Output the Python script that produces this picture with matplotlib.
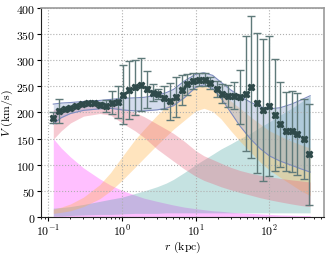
import matplotlib
matplotlib.use("Agg")
import matplotlib.pyplot as plt
import numpy as np

plt.rcParams['font.family'] = 'serif'
plt.rcParams['font.serif'] = ['cmr10', 'DejaVu Serif']
plt.rcParams['mathtext.fontset'] = 'cm'
plt.rcParams['axes.formatter.use_mathtext'] = True
plt.rcParams['font.size'] = 8.5

# observed rotation curve
r_obs = [0.117, 0.141, 0.168, 0.200, 0.241, 0.291, 0.347, 0.415, 0.500, 0.602,
         0.726, 0.875, 1.04, 1.255, 1.50, 1.81, 2.16, 2.60, 3.09, 3.73,
         4.45, 5.37, 6.47, 7.72, 9.20, 11.1, 13.2, 15.9, 19.2, 22.9,
         27.5, 33.0, 39.7, 47.8, 57.1, 68.8, 82.2, 98.0, 118, 141,
         170, 203, 241, 291, 347]
v_obs = [190, 203, 207, 209, 213, 216, 218, 218, 215, 212,
         219, 220, 234, 243, 248, 253, 244, 238, 235, 228,
         221, 229, 243, 254, 260, 263, 263, 256, 245, 236,
         232, 232, 230, 236, 248, 218, 205, 212, 196, 177,
         164, 164, 159, 149, 120]
v_err = [10, 23, 4, 4, 4, 3, 3, 3, 5, 12,
         22, 31, 57, 56, 52, 51, 35, 16, 9, 22,
         35, 38, 28, 20, 15, 12, 12, 12, 15, 18,
         21, 26, 52, 110, 136, 134, 136, 134, 107, 82,
         76, 78, 78, 76, 97]

# model bands
r_grid = [0.117, 0.15, 0.2, 0.3, 0.5, 0.7, 1.0, 1.5, 2.0, 3.0, 4.0, 5.0, 7.0,
          10, 13, 17, 22, 30, 40, 55, 75, 100, 140, 200, 270, 358]
total_lo = [178, 190, 198, 204, 207, 208, 205, 203, 203, 205, 208, 213, 228,
            248, 253, 246, 228, 200, 174, 150, 131, 117, 107, 99, 92, 86]
total_hi = [216, 218, 219, 221, 223, 225, 227, 228, 229, 233, 238, 244, 260,
            273, 276, 271, 258, 243, 231, 220, 211, 207, 209, 216, 224, 232]
bulge_lo = [149, 165, 180, 193, 198, 195, 180, 165, 152, 130, 117, 107, 92,
            78, 70, 64, 58, 52, 47, 42, 37, 33, 29, 25, 22, 20]
bulge_hi = [205, 210, 214, 217, 218, 215, 208, 200, 192, 178, 168, 160, 145,
            127, 117, 110, 103, 95, 89, 84, 80, 77, 74, 71, 69, 67]
disk_lo = [7, 9, 12, 20, 35, 50, 70, 95, 113, 138, 155, 168, 185,
           203, 208, 202, 188, 165, 145, 125, 105, 90, 76, 62, 50, 41]
disk_hi = [15, 19, 25, 38, 62, 85, 115, 148, 168, 195, 212, 225, 240,
           250, 250, 245, 236, 222, 208, 192, 178, 165, 155, 145, 138, 132]
halo_lo = [2, 2, 3, 4, 5, 5, 6, 7, 7, 7, 8, 8, 8,
           8, 8, 8, 8, 8, 8, 8, 8, 8, 8, 8, 8, 8]
halo_hi = [17, 18, 20, 24, 30, 34, 38, 45, 50, 58, 65, 72, 85,
           100, 110, 120, 130, 140, 150, 160, 172, 182, 195, 208, 220, 232]
bh_lo = [0] * len(r_grid)
bh_hi = [150, 132, 115, 94, 73, 61, 51, 42, 36, 30, 26, 23, 19,
         16, 14, 12, 11, 9, 8, 7, 6, 5, 4, 3.5, 3, 3]

fig = plt.figure(figsize=(3.29, 2.55), dpi=100)
ax = fig.add_axes([0.125, 0.145, 0.86, 0.82])

ax.fill_between(r_grid, bh_lo, bh_hi, color='#ff00ff', alpha=0.25, lw=0)
ax.fill_between(r_grid, halo_lo, halo_hi, color='#3f9f9c', alpha=0.3, lw=0)
ax.fill_between(r_grid, disk_lo, disk_hi, color='#ffb347', alpha=0.35, lw=0)
ax.fill_between(r_grid, bulge_lo, bulge_hi, color='#e8687f', alpha=0.35, lw=0)
ax.fill_between(r_grid, total_lo, total_hi, color='#8ea4cf', alpha=0.38, lw=0)
ax.plot(r_grid, total_lo, color='#7f8cc0', lw=0.8)
ax.plot(r_grid, total_hi, color='#7f8cc0', lw=0.8)

ax.errorbar(r_obs, v_obs, yerr=v_err, fmt='X', color='#2f4a4a', ms=4.5,
            ecolor='#5f7a7a', elinewidth=1, capsize=3, capthick=1, zorder=5)

ax.set_xscale('log')
ax.set_xlim(0.08, 553)
ax.set_ylim(0, 400)
ax.set_yticks(np.arange(0, 401, 50))
ax.grid(True, which='major', color='#b0b0b0', ls=':', lw=0.8)
ax.set_xlabel(r'$r$ (kpc)', labelpad=1)
ax.set_ylabel(r'$V$ (km/s)', labelpad=1)
ax.tick_params(direction='out', length=3, pad=1)
ax.tick_params(which='minor', length=1.5)

for side in ['top', 'right']:
    ax.spines[side].set_color('#999999')
    ax.spines[side].set_linewidth(1.2)
for side in ['left', 'bottom']:
    ax.spines[side].set_color('#222222')

fig.savefig('out.png', dpi=100)
